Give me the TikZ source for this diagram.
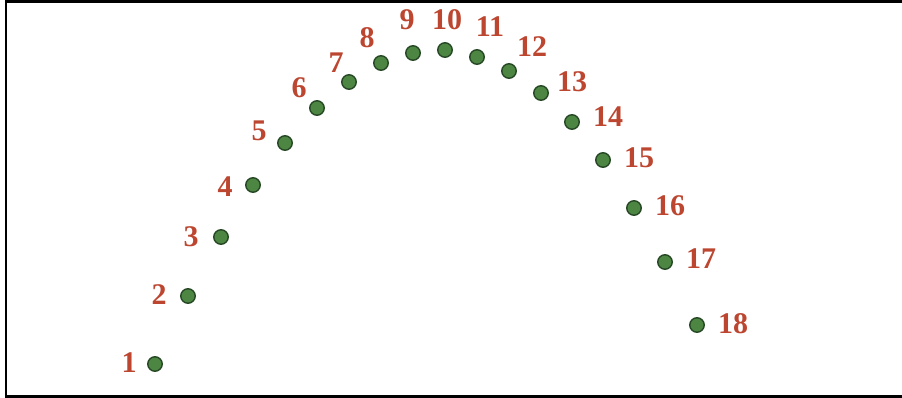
\documentclass[tikz,border=0pt]{standalone}
\usepackage{fontspec}
\setmainfont{Liberation Serif}
\usepackage{xcolor}
\usepackage{tikz}
\usetikzlibrary{positioning}
\definecolor{dotgreen}{RGB}{76,134,66}
\definecolor{dotedge}{RGB}{38,72,36}
\definecolor{numred}{RGB}{188,70,48}
\tikzset{
  pt/.style={circle, fill=dotgreen, draw=dotedge, line width=1.4pt, inner sep=0pt, minimum size=14.5pt},
  num/.style={text=numred, inner sep=0pt, font=\bfseries\fontsize{30}{30}\selectfont},
  frame/.style={line width=2.6pt, draw=black},
}
\begin{document}
\begin{tikzpicture}[x=1pt,y=-1pt]
    \useasboundingbox (0,0) rectangle (902,398);
    \draw[frame] (902,1.3) -- (6,1.3) -- (6,396.5) -- (902,396.5);
    \foreach \i/\x/\y/\lx/\ly in {1/155/364/129/363,2/188/296/159/295,3/221/237/191/237,
      4/253/185/225/187,5/285/143/259/131,6/317/108/299/88,7/349/82/336/63,
      8/381/63/367/38,9/413/53/407/20,10/445/50/447/20,11/477/57/490/27,
      12/509/71/532/47,13/541/93/572/82,14/572/122/608/117,15/603/160/639/158,
      16/634/208/670/206,17/665/262/701/259,18/697/325/733/324}{
      \node[pt] (d\i) at (\x,\y) {};
      \node[num] (l\i) at (\lx,\ly) {\i};
    }
  \end{tikzpicture}
\end{document}
